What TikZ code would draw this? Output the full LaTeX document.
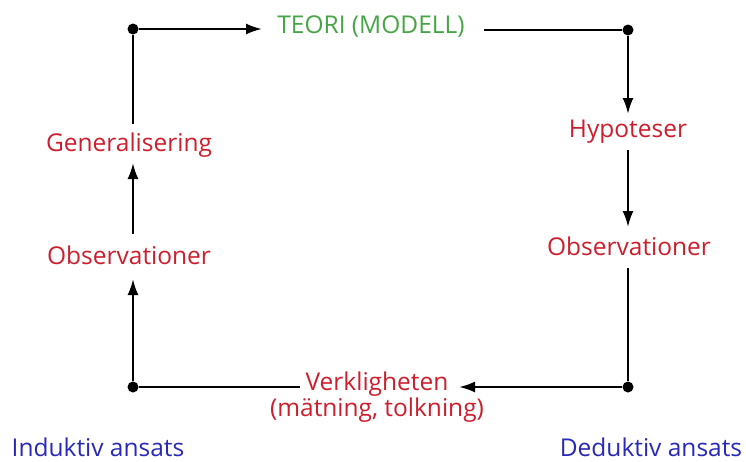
\documentclass[tikz,border=0pt]{standalone}
\usepackage{fontspec}
\setmainfont{Open Sans}
\usetikzlibrary{arrows.meta}
\definecolor{tred}{RGB}{205,30,45}
\definecolor{tgreen}{RGB}{70,165,70}
\definecolor{tblue}{RGB}{40,40,185}
\begin{document}
\begin{tikzpicture}[x=1pt,y=-1pt,
  lbl/.style={font=\fontsize{24.5}{26}\selectfont, inner sep=2pt},
  red lbl/.style={lbl, text=tred},
  conn/.style={line width=2.2pt, draw=black},
  arr/.style={conn, -{Latex[length=16pt,width=11pt]}},
  dot/.style={circle, fill=black, inner sep=0pt, minimum size=11pt}]
\useasboundingbox (0,0) rectangle (746,461);
% corners
\node[dot] (tl) at (133,29) {};
\node[dot] (tr) at (628,30) {};
\node[dot] (bl) at (133,387) {};
\node[dot] (br) at (628,387) {};
% labels
\node[lbl, text=tgreen] (teori) at (371,27) {TEORI (MODELL)};
\node[red lbl] (hyp) at (628,132) {Hypoteser};
\node[red lbl] (obsr) at (629,246) {Observationer};
\node[red lbl, align=center] (verk) at (377,397) {Verkligheten\\(mätning, tolkning)};
\node[red lbl] (obsl) at (129,255) {Observationer};
\node[red lbl] (gen) at (129,145) {Generalisering};
\node[lbl, text=tblue] (ind) at (98,447) {Induktiv ansats};
\node[lbl, text=tblue] (ded) at (651,447) {Deduktiv ansats};
% anchors for connector ends
\coordinate (teoriL) at (262,29);
\coordinate (teoriR) at (484,30);
\coordinate (hypT) at (628,114);
\coordinate (hypB) at (628,150);
\coordinate (obsrT) at (628,227);
\coordinate (obsrB) at (628,268);
\coordinate (verkR) at (459,387);
\coordinate (verkL) at (300,387);
\coordinate (obslB) at (133,279);
\coordinate (obslT) at (133,234);
\coordinate (genB) at (133,163);
\coordinate (genT) at (133,124);
% connectors
\draw[arr] (tl) -- (teoriL);
\draw[conn] (teoriR) -- (tr);
\draw[arr] (tr) -- (hypT);
\draw[arr] (hypB) -- (obsrT);
\draw[conn] (obsrB) -- (br);
\draw[arr] (br) -- (verkR);
\draw[conn] (verkL) -- (bl);
\draw[arr] (bl) -- (obslB);
\draw[arr] (obslT) -- (genB);
\draw[conn] (genT) -- (tl);
\end{tikzpicture}
\end{document}
